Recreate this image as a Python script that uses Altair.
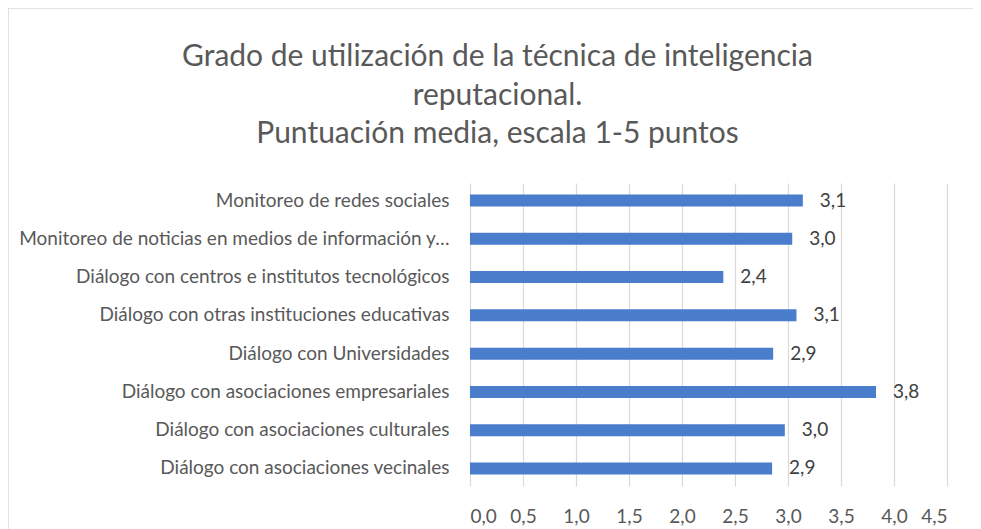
import altair as alt
import pandas as pd

categories = [
    "Monitoreo de redes sociales",
    "Monitoreo de noticias en medios de información y…",
    "Diálogo con centros e institutos tecnológicos",
    "Diálogo con otras instituciones educativas",
    "Diálogo con Universidades",
    "Diálogo con asociaciones empresariales",
    "Diálogo con asociaciones culturales",
    "Diálogo con asociaciones vecinales",
]
values = [3.14, 3.04, 2.39, 3.08, 2.86, 3.83, 2.97, 2.85]
x_ticks = [0, 0.5, 1, 1.5, 2, 2.5, 3, 3.5, 4, 4.5]
title_lines = [
    "Grado de utilización de la técnica de inteligencia",
    "reputacional.",
    "Puntuación media, escala 1-5 puntos",
]

df = pd.DataFrame({"cat": categories, "val": values})

FONT = "Lato"
FS = 19
W, H = 477, 303
PL, PT = 462, 175
PR = 965 - PL - W
PB = 521 - PT - H

base = alt.Chart(df).encode(
    y=alt.Y(
        "cat:N",
        sort=categories,
        title=None,
        scale=alt.Scale(paddingInner=0.68, paddingOuter=0.3),
        axis=alt.Axis(
            domain=False, ticks=False, grid=False, labelPadding=21,
            labelFontSize=FS, labelColor="#595959", labelFont=FONT, labelLimit=500,
        ),
    )
)

bars = base.mark_bar(size=12, color="#4a7dcc").encode(
    x=alt.X(
        "val:Q",
        title=None,
        scale=alt.Scale(domain=[0, 4.5], nice=False),
        axis=alt.Axis(
            values=x_ticks, domain=False, ticks=False, grid=True,
            gridColor="#d9d9d9", gridWidth=1.2, labelPadding=21,
            labelFontSize=FS, labelColor="#595959", labelFont=FONT,
            labelExpr="replace(format(datum.value, '.1f'), '.', ',')",
        ),
    )
)

labels = base.transform_calculate(
    lbl="replace(format(datum.val, '.1f'), '.', ',')"
).mark_text(align="left", dx=17, fontSize=FS, color="#404040", font=FONT).encode(
    x="val:Q", text="lbl:N"
)

frame = alt.Chart(pd.DataFrame({"a": [0]})).mark_rect(
    fill=None, stroke="#d9d9d9", strokeWidth=1.5
).encode(
    x=alt.value(-PL), x2=alt.value(W + PR + 20),
    y=alt.value(-PT), y2=alt.value(H + PB + 20),
)

chart = alt.layer(frame, bars, labels).properties(
    width=W, height=H,
    autosize=alt.AutoSizeParams(type="none"),
    padding={"left": PL, "top": PT, "right": PR, "bottom": PB},
    title=alt.TitleParams(
        text=title_lines, anchor="middle", frame="group", dx=-211, dy=142,
        fontSize=30, font=FONT, fontWeight="normal", color="#595959",
        lineHeight=38.5, offset=0,
    ),
).configure_view(stroke=None)

chart.save("out.html", embed_options={"renderer": "svg", "actions": False})
